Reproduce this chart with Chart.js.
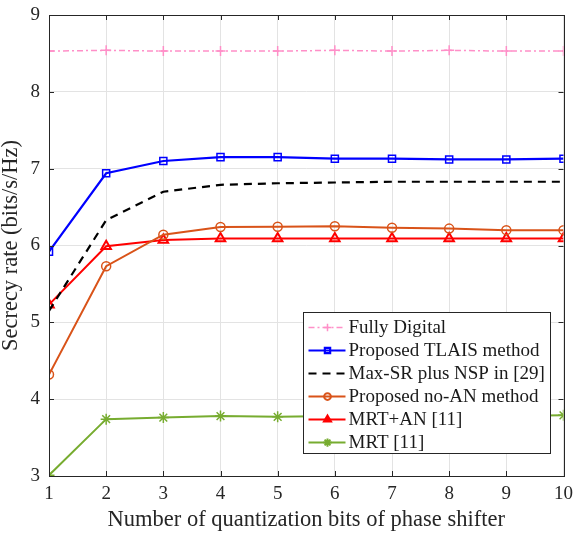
<!DOCTYPE html>
<html>
<head>
<meta charset="utf-8">
<script src="https://cdn.jsdelivr.net/npm/chart.js@4.4.1/dist/chart.umd.min.js"></script>
<style>
  body { margin: 0; background: #fff; }
  #wrap { width: 580px; height: 533px; }
</style>
</head>
<body>
<div id="wrap"><canvas id="srCanvas" width="580" height="533"></canvas></div>
<script>
var bits = [1, 2, 3, 4, 5, 6, 7, 8, 9, 10];
var fullyDigital = [8.53, 8.54, 8.53, 8.53, 8.53, 8.54, 8.53, 8.54, 8.53, 8.53];
var tlais = [5.92, 6.94, 7.10, 7.15, 7.15, 7.13, 7.13, 7.12, 7.12, 7.13];
var maxSrNsp = [5.15, 6.33, 6.70, 6.79, 6.81, 6.82, 6.83, 6.83, 6.83, 6.83];
var noAN = [4.32, 5.73, 6.14, 6.24, 6.245, 6.25, 6.23, 6.22, 6.20, 6.20];
var mrtAN = [5.23, 5.99, 6.07, 6.09, 6.09, 6.09, 6.09, 6.09, 6.09, 6.09];
var mrt = [3.01, 3.74, 3.76, 3.78, 3.77, 3.78, 3.78, 3.78, 3.78, 3.79];
var yTicks = [3, 4, 5, 6, 7, 8, 9];

var serif = '"Liberation Serif", "Times New Roman", serif';

function pts(arr) {
  return arr.map((v, i) => ({ x: bits[i], y: v }));
}

// box, inward ticks and legend drawn by hand (MATLAB look)
var matlabFrame = {
  id: 'matlabFrame',
  afterDatasetsDraw(chart) {
    var ctx = chart.ctx;
    var a = chart.chartArea;
    var xs = chart.scales.x, ys = chart.scales.y;
    ctx.save();
    ctx.strokeStyle = '#262626';
    ctx.lineWidth = 1;
    ctx.beginPath();
    bits.forEach(b => {
      var px = Math.round(xs.getPixelForValue(b)) + 0.5;
      ctx.moveTo(px, a.bottom); ctx.lineTo(px, a.bottom - 5);
      ctx.moveTo(px, a.top); ctx.lineTo(px, a.top + 5);
    });
    yTicks.forEach(t => {
      var py = Math.round(ys.getPixelForValue(t)) + 0.5;
      ctx.moveTo(a.left, py); ctx.lineTo(a.left + 5, py);
      ctx.moveTo(a.right, py); ctx.lineTo(a.right - 5, py);
    });
    ctx.stroke();
    ctx.strokeRect(Math.round(a.left) + 0.5, Math.round(a.top) + 0.5,
      Math.round(a.right - a.left), Math.round(a.bottom - a.top));

    // legend
    var bx = 303.5, by = 312.5, bw = 247, bh = 141;
    ctx.fillStyle = '#fff';
    ctx.fillRect(bx, by, bw, bh);
    ctx.strokeStyle = '#262626';
    ctx.strokeRect(bx, by, bw, bh);
    ctx.font = '19px ' + serif;
    ctx.textBaseline = 'middle';
    chart.data.datasets.forEach((ds, i) => {
      var cy = by + 15 + i * 23;
      ctx.save();
      ctx.strokeStyle = ds.borderColor;
      ctx.lineWidth = ds.borderWidth;
      ctx.setLineDash(ds.borderDash || []);
      ctx.beginPath();
      ctx.moveTo(bx + 5, cy); ctx.lineTo(bx + 42, cy);
      ctx.stroke();
      ctx.setLineDash([]);
      ctx.fillStyle = ds.pointStyle === 'triangle' ? ds.borderColor : 'rgba(0,0,0,0)';
      Chart.helpers.drawPoint(ctx, {
        pointStyle: ds.pointStyle, radius: ds.pointRadius * 0.75,
        borderWidth: ds.pointBorderWidth || 1.5
      }, bx + 24, cy);
      ctx.restore();
      ctx.fillStyle = '#1a1a1a';
      ctx.fillText(ds.label, bx + 45, cy + 1);
    });
    ctx.restore();
  }
};

new Chart(
  document.getElementById('srCanvas'),
  {
    type: 'line',
    plugins: [matlabFrame],
    data: {
      datasets: [
        {
          label: 'Fully Digital',
          data: pts(fullyDigital),
          borderColor: '#ff8fc8',
          backgroundColor: 'rgba(0,0,0,0)',
          borderWidth: 1.5,
          borderDash: [6, 3, 2, 3],
          pointStyle: 'cross',
          pointRadius: 5,
          pointBorderWidth: 1.5
        },
        {
          label: 'Proposed TLAIS method',
          data: pts(tlais),
          borderColor: '#0000ff',
          backgroundColor: 'rgba(0,0,0,0)',
          borderWidth: 2.2,
          pointStyle: 'rect',
          pointRadius: 5,
          pointBorderWidth: 1.5
        },
        {
          label: 'Max-SR plus NSP in [29]',
          data: pts(maxSrNsp),
          borderColor: '#000000',
          backgroundColor: 'rgba(0,0,0,0)',
          borderWidth: 2.2,
          borderDash: [8, 6],
          pointStyle: 'circle',
          pointRadius: 0
        },
        {
          label: 'Proposed no-AN method',
          data: pts(noAN),
          borderColor: '#d95319',
          backgroundColor: 'rgba(0,0,0,0)',
          borderWidth: 2,
          pointStyle: 'circle',
          pointRadius: 4.5,
          pointBorderWidth: 1.5
        },
        {
          label: 'MRT+AN [11]',
          data: pts(mrtAN),
          borderColor: '#ff0000',
          backgroundColor: 'rgba(0,0,0,0)',
          borderWidth: 2,
          pointStyle: 'triangle',
          pointRadius: 5.5,
          pointBorderWidth: 2
        },
        {
          label: 'MRT [11]',
          data: pts(mrt),
          borderColor: '#77ac30',
          backgroundColor: 'rgba(0,0,0,0)',
          borderWidth: 2,
          pointStyle: 'star',
          pointRadius: 5.5,
          pointBorderWidth: 1.5
        }
      ]
    },
    options: {
      responsive: false,
      animation: false,
      layout: { padding: { left: 0, right: 11, top: 15, bottom: 0 } },
      plugins: {
        legend: { display: false },
        tooltip: { enabled: false }
      },
      elements: { line: { tension: 0 } },
      scales: {
        x: {
          type: 'linear',
          min: 1,
          max: 10,
          afterBuildTicks: s => { s.ticks = bits.map(v => ({ value: v })); },
          afterFit: s => { s.height = 57; },
          grid: { color: '#e3e3e3', drawTicks: false },
          border: { display: false },
          ticks: {
            padding: 7,
            color: '#262626',
            font: { family: serif, size: 19 },
            maxRotation: 0
          },
          title: {
            display: true,
            text: 'Number of quantization bits of phase shifter',
            color: '#262626',
            font: { family: serif, size: 22.5, lineHeight: 1 },
            padding: { top: 0, bottom: 2 }
          }
        },
        y: {
          min: 3,
          max: 9,
          afterBuildTicks: s => { s.ticks = yTicks.map(v => ({ value: v })); },
          afterFit: s => { s.width = 49; s.paddingTop = 0; s.paddingBottom = 0; },
          grid: { color: '#e3e3e3', drawTicks: false },
          border: { display: false },
          ticks: {
            padding: 9,
            color: '#262626',
            font: { family: serif, size: 19, lineHeight: 1 }
          },
          title: {
            display: true,
            text: 'Secrecy rate (bits/s/Hz)',
            color: '#262626',
            font: { family: serif, size: 22.5, lineHeight: 1 },
            padding: { top: 0, bottom: 0 }
          }
        }
      }
    }
  }
);
</script>
</body>
</html>
